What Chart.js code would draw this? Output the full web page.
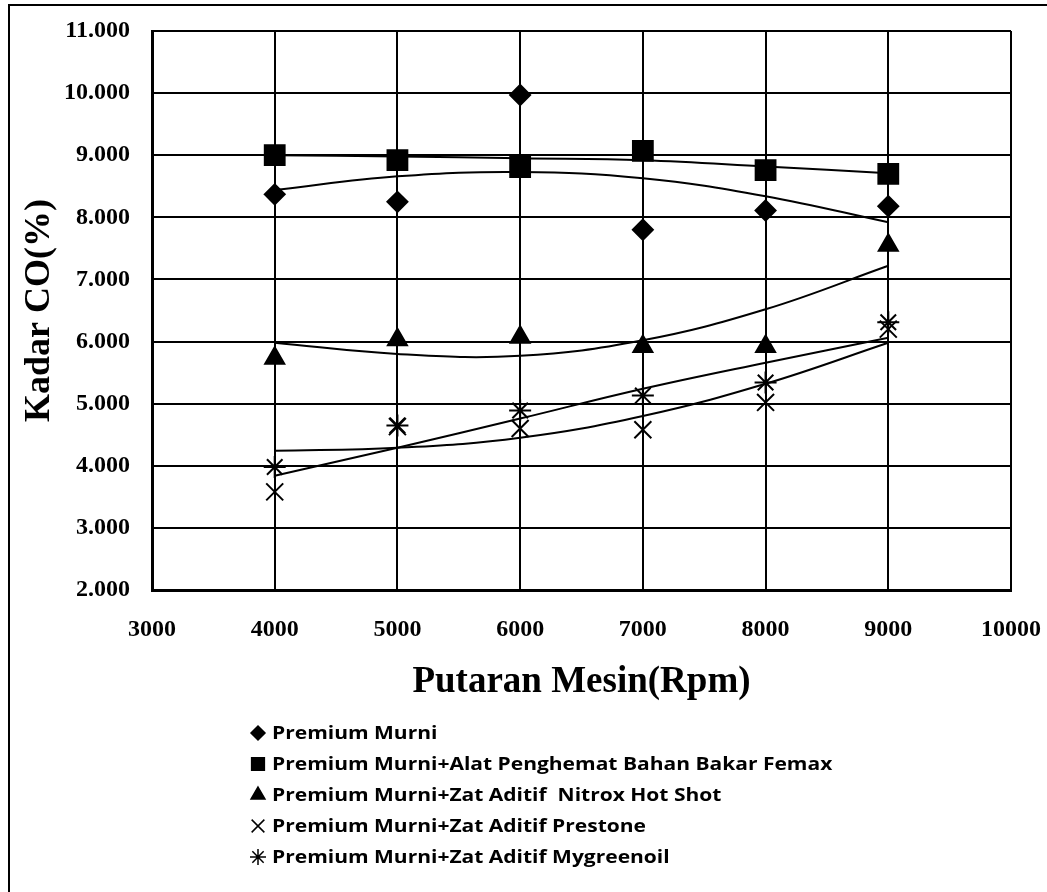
<!DOCTYPE html>
<html>
<head>
<meta charset="utf-8">
<script src="https://cdn.jsdelivr.net/npm/chart.js@4.4.1/dist/chart.umd.min.js"></script>
<style>
  html, body { margin: 0; padding: 0; background: #fff; }
  #wrap { position: relative; width: 1047px; height: 892px; }
</style>
</head>
<body>
<div id="wrap"><canvas id="chart"></canvas></div>
<script>
  // putaran mesin (rpm)
  const rpm = [4000, 5000, 6000, 7000, 8000, 9000];

  const seriesNames = [
    "Premium Murni",
    "Premium Murni+Alat Penghemat Bahan Bakar Femax",
    "Premium Murni+Zat Aditif  Nitrox Hot Shot",
    "Premium Murni+Zat Aditif Prestone",
    "Premium Murni+Zat Aditif Mygreenoil"
  ];

  // kadar CO (%) per rpm
  const murni = [8.37, 8.25, 9.97, 7.80, 8.11, 8.18];
  const femax = [9.00, 8.92, 8.81, 9.07, 8.76, 8.70];
  const nitrox = [5.73, 6.03, 6.07, 5.92, 5.92, 7.55];
  const prestone = [3.58, 4.63, 4.60, 4.58, 5.02, 6.20];
  const mygreenoil = [3.98, 4.65, 4.89, 5.13, 5.34, 6.31];

  // garis trend
  const murniTrend = [8.44, 8.66, 8.73, 8.63, 8.34, 7.92];
  const femaxTrend = [9.00, 8.98, 8.95, 8.92, 8.82, 8.71];
  const nitroxTrend = [5.98, 5.80, 5.77, 6.02, 6.52, 7.22];
  const prestoneTrend = [4.24, 4.29, 4.45, 4.80, 5.32, 5.98];
  const mygreenoilTrend = [3.84, 4.29, 4.76, 5.24, 5.66, 6.06];

  const yTicks = [2, 3, 4, 5, 6, 7, 8, 9, 10, 11];
  const xTicks = [3000, 4000, 5000, 6000, 7000, 8000, 9000, 10000];

  const serif = "'Liberation Serif', 'DejaVu Serif', serif";

  function toPoints(values) {
    return rpm.map((x, i) => ({ x: x, y: values[i] }));
  }

  function markerSet(label, values, style, radius) {
    return {
      label: label,
      data: toPoints(values),
      showLine: false,
      pointStyle: style,
      pointRadius: radius,
      pointHoverRadius: radius,
      pointBackgroundColor: "#000",
      pointBorderColor: "#000",
      pointBorderWidth: 2,
      borderColor: "#000",
      backgroundColor: "#000"
    };
  }

  function trendSet(values) {
    return {
      label: "trend",
      isTrend: true,
      data: toPoints(values),
      borderColor: "#000",
      borderWidth: 2,
      pointRadius: 0,
      tension: 0.4,
      fill: false
    };
  }

  const datasets = [
    markerSet(seriesNames[0], murni, "rectRot", 10),
    markerSet(seriesNames[1], femax, "rect", 14),
    markerSet(seriesNames[2], nitrox, "triangle", 11),
    markerSet(seriesNames[3], prestone, "crossRot", 12),
    markerSet(seriesNames[4], mygreenoil, "star", 11),
    trendSet(murniTrend),
    trendSet(femaxTrend),
    trendSet(nitroxTrend),
    trendSet(prestoneTrend),
    trendSet(mygreenoilTrend)
  ];

  // bingkai luar
  const framePlugin = {
    id: "frame",
    beforeDraw(chart) {
      const ctx = chart.ctx;
      ctx.save();
      ctx.fillStyle = "#fff";
      ctx.fillRect(0, 0, chart.width, chart.height);
      ctx.strokeStyle = "#000";
      ctx.lineWidth = 2;
      ctx.strokeRect(9, 5, 1200, 1200);
      ctx.restore();
    }
  };

  // legenda bertumpuk di bawah judul sumbu x
  const legendRadius = { rectRot: 7, rect: 9, triangle: 8, crossRot: 9, star: 8 };
  const stackLegend = {
    id: "stackLegend",
    afterDraw(chart) {
      const ctx = chart.ctx;
      ctx.save();
      let row = 0;
      chart.data.datasets.forEach((ds) => {
        if (ds.isTrend) return;
        const y = 733 + row * 31;
        ctx.fillStyle = "#000";
        ctx.strokeStyle = "#000";
        ctx.lineWidth = 1.5;
        Chart.helpers.drawPoint(ctx, {
          pointStyle: ds.pointStyle,
          radius: legendRadius[ds.pointStyle],
          rotation: 0,
          borderWidth: 1.5
        }, 258, y);
        ctx.save();
        ctx.translate(272, y);
        ctx.scale(1.2, 1);
        ctx.font = "bold 17.5px 'Open Sans', sans-serif";
        ctx.textBaseline = "middle";
        ctx.fillText(ds.label, 0, 1);
        ctx.restore();
        row++;
      });
      ctx.restore();
    }
  };

  new Chart(document.getElementById("chart"), {
    type: "line",
    data: { datasets },
    plugins: [framePlugin, stackLegend],
    options: {
      responsive: true,
      maintainAspectRatio: false,
      animation: false,
      layout: { padding: { left: 9, top: 31, right: 36, bottom: 172 } },
      plugins: {
        legend: { display: false },
        tooltip: { enabled: false }
      },
      scales: {
        x: {
          type: "linear",
          min: xTicks[0],
          max: xTicks[xTicks.length - 1],
          afterBuildTicks: (scale) => { scale.ticks = xTicks.map((v) => ({ value: v })); },
          afterFit: (scale) => {
            scale.height = 130;
            scale.paddingLeft = 0;
            scale.paddingRight = 0;
          },
          grid: { color: "#000", lineWidth: 2, drawTicks: false },
          border: { display: true, color: "#000", width: 3 },
          ticks: {
            padding: 25,
            color: "#000",
            font: { family: serif, size: 24, weight: "bold" },
            callback: (v) => String(v)
          },
          title: {
            display: true,
            text: "Putaran Mesin(Rpm)",
            color: "#000",
            font: { family: serif, size: 37, weight: "bold" },
            padding: { top: 0, bottom: 15 }
          }
        },
        y: {
          min: yTicks[0],
          max: yTicks[yTicks.length - 1],
          afterBuildTicks: (scale) => { scale.ticks = yTicks.map((v) => ({ value: v })); },
          afterFit: (scale) => {
            scale.width = 143;
            scale.paddingTop = 0;
            scale.paddingBottom = 0;
          },
          grid: { color: "#000", lineWidth: 2, drawTicks: false },
          border: { display: true, color: "#000", width: 3 },
          ticks: {
            padding: 22,
            color: "#000",
            font: { family: serif, size: 24, weight: "bold" },
            callback: (v) => v.toFixed(3)
          },
          title: {
            display: true,
            text: "Kadar CO(%)",
            color: "#000",
            font: { family: serif, size: 36, weight: "bold" },
            padding: { top: 9, bottom: 0 }
          }
        }
      }
    }
  });
</script>
</body>
</html>
